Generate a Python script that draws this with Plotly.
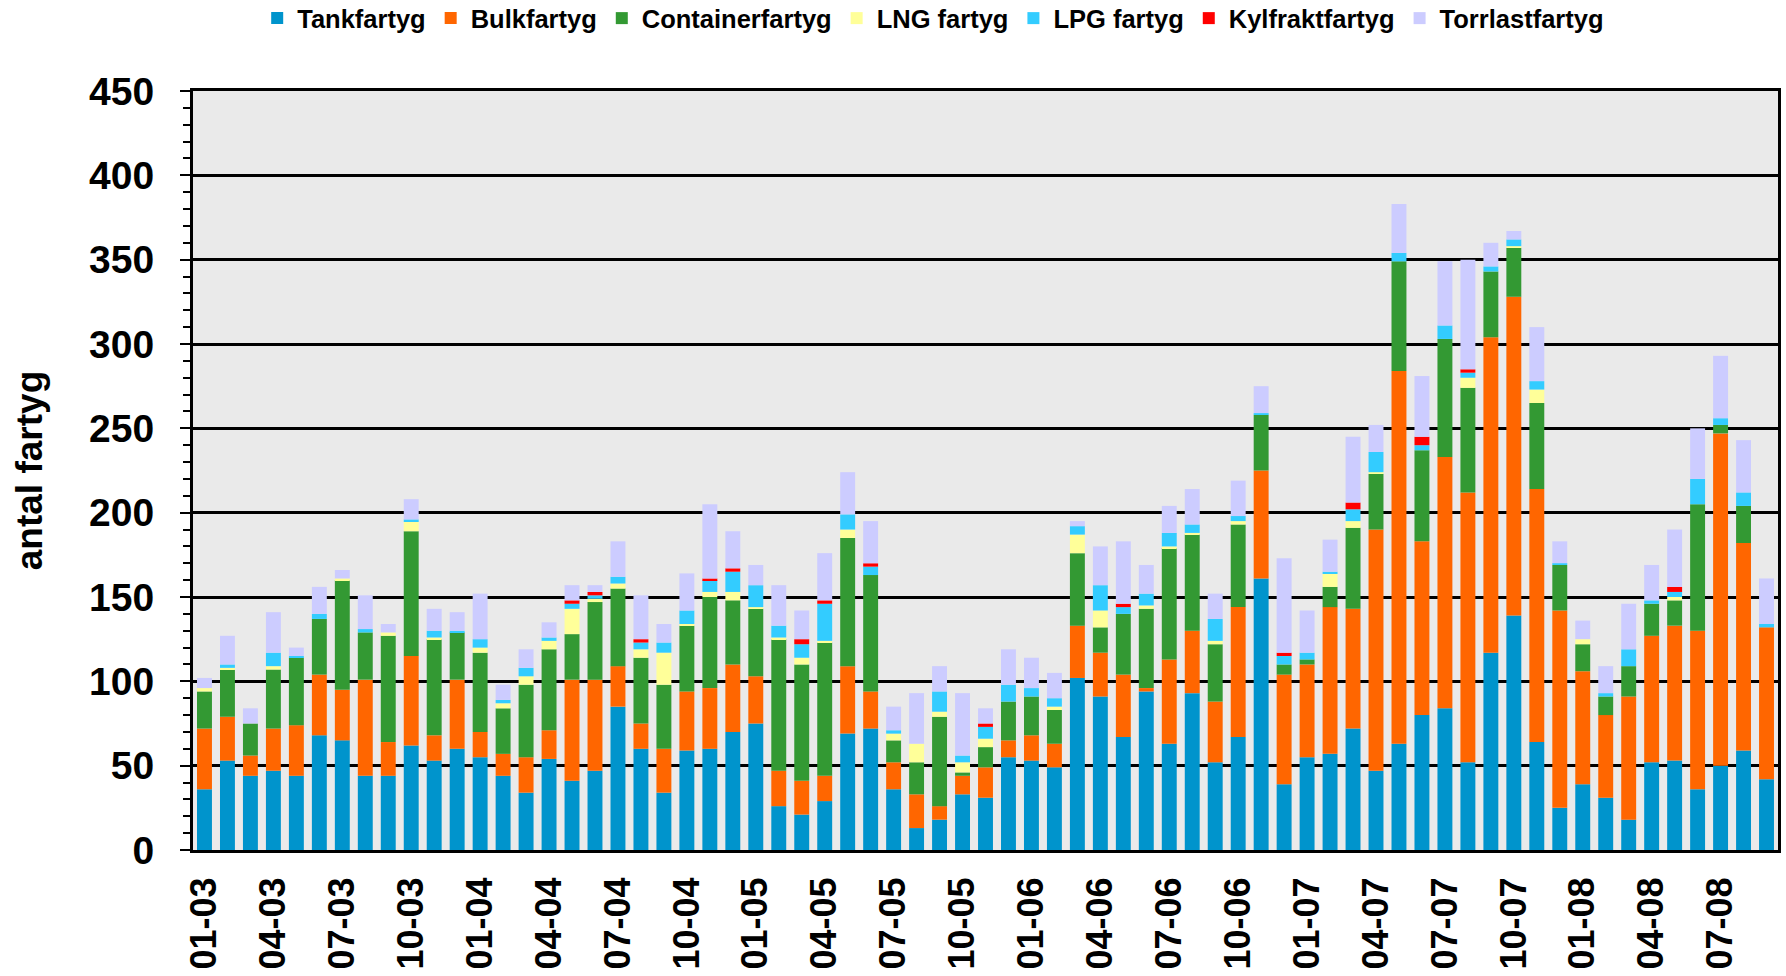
import plotly.graph_objects as go

# --- data ---
manader = [
    "01-03", "02-03", "03-03", "04-03", "05-03", "06-03", "07-03", "08-03", "09-03", "10-03", "11-03", "12-03",
    "01-04", "02-04", "03-04", "04-04", "05-04", "06-04", "07-04", "08-04", "09-04", "10-04", "11-04", "12-04",
    "01-05", "02-05", "03-05", "04-05", "05-05", "06-05", "07-05", "08-05", "09-05", "10-05", "11-05", "12-05",
    "01-06", "02-06", "03-06", "04-06", "05-06", "06-06", "07-06", "08-06", "09-06", "10-06", "11-06", "12-06",
    "01-07", "02-07", "03-07", "04-07", "05-07", "06-07", "07-07", "08-07", "09-07", "10-07", "11-07", "12-07",
    "01-08", "02-08", "03-08", "04-08", "05-08", "06-08", "07-08", "08-08", "09-08",
]
tick_labels = [
    "01-03", "04-03", "07-03", "10-03", "01-04", "04-04", "07-04", "10-04",
    "01-05", "04-05", "07-05", "10-05", "01-06", "04-06", "07-06", "10-06",
    "01-07", "04-07", "07-07", "10-07", "01-08", "04-08", "07-08",
]

tankfartyg = [
    36, 53, 44, 47, 44, 68, 65, 44, 44, 62, 53, 60,
    55, 44, 34, 54, 41, 47, 85, 60, 34, 59, 60, 70,
    75, 26, 21, 29, 69, 72, 36, 13, 18, 33, 31, 55,
    53, 49, 102, 91, 67, 94, 63, 93, 52, 67, 161, 39,
    55, 57, 72, 47, 63, 80, 84, 52, 117, 139, 64, 25,
    39, 31, 18, 52, 53, 36, 50, 59, 42,
]
bulkfartyg = [
    36, 26, 12, 25, 30, 36, 30, 57, 20, 53, 15, 41,
    15, 13, 21, 17, 60, 54, 24, 15, 26, 35, 36, 40,
    28, 21, 20, 15, 40, 22, 16, 20, 8, 11, 18, 10,
    15, 14, 31, 26, 37, 2, 50, 37, 36, 77, 64, 65,
    55, 87, 71, 143, 221, 103, 149, 160, 187, 189, 150, 117,
    67, 49, 73, 75, 80, 94, 197, 123, 90,
]
containerfartyg = [
    22, 28, 19, 35, 40, 33, 65, 28, 63, 74, 57, 28,
    47, 27, 43, 48, 27, 46, 46, 39, 38, 39, 54, 38,
    40, 78, 69, 79, 76, 69, 13, 19, 53, 2, 12, 23,
    23, 20, 43, 15, 36, 47, 66, 57, 34, 49, 33, 6,
    3, 12, 48, 33, 65, 54, 70, 62, 39, 29, 51, 27,
    16, 11, 18, 19, 15, 75, 5, 22, -1,
]
lng_fartyg = [
    2, 1, 0, 2, 0, 0, 1, 0, 2, 6, 1, 0,
    3, 3, 5, 5, 15, 2, 3, 5, 19, 1, 3, 5,
    1, 1, 4, 1, 5, 0, 4, 11, 3, 6, 5, 0,
    0, 2, 11, 10, 0, 2, 1, 1, 2, 2, 0, 0,
    0, 8, 4, 1, 0, 0, 0, 6, 0, 1, 8, 0,
    3, 0, 0, 0, 2, 0, 0, 0, 0,
]
lpg_fartyg = [
    0, 2, 0, 8, 1, 3, 0, 2, 0, 1, 4, 1,
    5, 2, 5, 2, 3, 2, 4, 4, 6, 8, 7, 12,
    13, 7, 8, 22, 9, 5, 2, 0, 12, 4, 7, 10,
    5, 5, 5, 15, 4, 7, 8, 5, 13, 3, 1, 5,
    4, 1, 7, 12, 5, 3, 8, 3, 3, 4, 5, 1,
    0, 2, 10, 2, 3, 15, 4, 8, 2,
]
kylfraktfartyg = [
    0, 0, 0, 0, 0, 0, 0, 0, 0, 0, 0, 0,
    0, 0, 0, 0, 2, 2, 0, 2, 0, 0, 1, 2,
    0, 0, 3, 2, -1, 2, 0, 0, 0, 0, 2, 0,
    0, 0, 0, 0, 2, 0, 0, 0, 0, 0, 0, 2,
    0, 0, 4, 0, 0, 5, 0, 2, 0, 0, 0, 0,
    0, 0, 0, 0, 3, 0, 0, 0, 0,
]
torrlastfartyg = [
    6, 17, 9, 24, 5, 16, 5, 20, 5, 12, 13, 11,
    27, 9, 11, 9, 9, 4, 21, 26, 11, 22, 44, 22,
    12, 24, 17, 28, 25, 25, 14, 30, 15, 37, 9, 21,
    18, 15, 3, 23, 37, 17, 16, 21, 15, 21, 16, 56,
    25, 19, 39, 16, 29, 36, 38, 65, 14, 5, 32, 13,
    11, 16, 27, 21, 34, 30, 37, 31, 27,
]

serier = [
    ("Tankfartyg", tankfartyg, "#0094CC"),
    ("Bulkfartyg", bulkfartyg, "#FF6600"),
    ("Containerfartyg", containerfartyg, "#339933"),
    ("LNG fartyg", lng_fartyg, "#FFFF99"),
    ("LPG fartyg", lpg_fartyg, "#33CCFF"),
    ("Kylfraktfartyg", kylfraktfartyg, "#FF0000"),
    ("Torrlastfartyg", torrlastfartyg, "#CCCCFF"),
]

FONT = "Liberation Sans, Arial, sans-serif"

fig = go.Figure()
for namn, varden, farg in serier:
    fig.add_trace(go.Bar(
        x=manader, y=varden, name=namn,
        marker=dict(color=farg, line=dict(width=0)),
    ))

fig.update_layout(
    barmode="relative",
    bargap=0.35,
    width=1786, height=976,
    margin=dict(l=193, r=5, t=91, b=126),
    plot_bgcolor="#EAEAEA",
    paper_bgcolor="white",
    font=dict(family=FONT, color="black"),
    showlegend=True,
    legend=dict(
        orientation="h", traceorder="normal",
        x=0.467, xanchor="center",
        yref="container", y=0.981, yanchor="middle",
        font=dict(size=25.5, weight="bold"),
        itemwidth=30, tracegroupgap=0,
    ),
)

fig.update_xaxes(
    type="category",
    tickmode="array", tickvals=tick_labels, ticktext=tick_labels,
    tickangle=-90,
    tickfont=dict(size=36, weight="bold"),
    ticks="", ticklabelstandoff=10,
    showline=True, linecolor="black", linewidth=3, mirror=True,
    showgrid=False,
)
fig.update_yaxes(
    range=[0, 450], dtick=50,
    tickfont=dict(size=39, weight="bold"),
    ticks="outside", ticklen=10, tickwidth=2, tickcolor="black",
    ticklabelstandoff=18,
    minor=dict(dtick=10, ticks="outside", ticklen=7, tickwidth=2, tickcolor="black", showgrid=False),
    showgrid=True, gridcolor="black", gridwidth=2.5,
    showline=True, linecolor="black", linewidth=3, mirror=True,
    zeroline=False,
    title=dict(text="antal fartyg", font=dict(size=37, weight="bold"), standoff=36),
)

# sidans standardmarginal bort så att figuren fyller fönstret exakt
fig.write_html(
    "out.html",
    config={"displayModeBar": False},
    post_script="document.body.style.margin='0';document.body.style.overflow='hidden';",
)
